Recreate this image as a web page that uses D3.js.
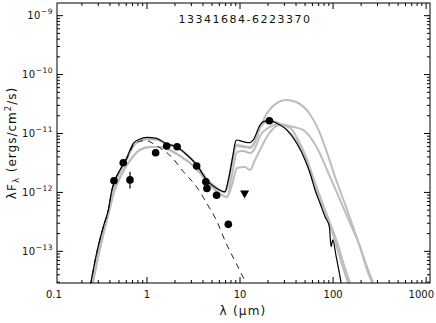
<!DOCTYPE html>
<html><head><meta charset="utf-8">
<script src="https://cdn.jsdelivr.net/npm/d3@7"></script>
<style>
body{margin:0;background:#fff}
svg{display:block}
text{font-family:"DejaVu Sans",sans-serif;fill:#111}
</style>
</head><body>
<svg id="chart" width="436" height="323"></svg>
<script>
// ---------------- data ----------------
const title = "13341684-6223370";
const xTickValues = [0.1, 1, 10, 100, 1000];
const xTickLabels = ["0.1", "1", "10", "100", "1000"];
const yTickValues = [1e-9, 1e-10, 1e-11, 1e-12, 1e-13];
const yTickExponents = ["\u22129", "\u221210", "\u221211", "\u221212", "\u221213"];

// photometry (microns, erg/cm2/s)
const obsLambda = [0.442, 0.556, 0.657, 1.24, 1.63, 2.11, 3.42, 4.29, 4.41, 5.60, 7.49, 20.7];
const obsFlux   = [1.58e-12, 3.19e-12, 1.63e-12, 4.72e-12, 6.14e-12, 5.97e-12, 2.81e-12, 1.52e-12, 1.17e-12, 8.93e-13, 2.87e-13, 1.65e-11];
const obsFluxLo = [1.40e-12, 2.85e-12, 1.17e-12, 4.20e-12, 5.50e-12, 5.35e-12, 2.50e-12, 1.36e-12, 1.05e-12, 7.95e-13, 2.56e-13, 1.47e-11];
const obsFluxHi = [1.78e-12, 3.58e-12, 2.24e-12, 5.30e-12, 6.85e-12, 6.66e-12, 3.15e-12, 1.70e-12, 1.31e-12, 1.00e-12, 3.22e-13, 1.85e-11];
const limitLambda = [11.2];
const limitFlux = [9.4e-13];

// best-fitting model (black)
const bestFit = [[0.245,2.5e-14],[0.288,9.35e-14],[0.339,2.59e-13],[0.384,5.0e-13],[0.42,1.1e-12],[0.453,1.62e-12],[0.513,2.4e-12],[0.605,3.84e-12],[0.713,6.82e-12],[0.841,8.07e-12],[0.993,8.61e-12],[1.27,8.28e-12],[1.63,6.64e-12],[2.09,5.97e-12],[2.56,4.61e-12],[3.42,2.92e-12],[4.39,1.62e-12],[5.62,1.17e-12],[6.9,1.03e-12],[7.48,1.62e-12],[8.47,4.61e-12],[8.84,6.82e-12],[9.22,7.76e-12],[10.8,7.26e-12],[12.8,6.98e-12],[13.9,7.76e-12],[16.4,1.39e-11],[17.8,1.59e-11],[20.7,1.65e-11],[24.8,1.49e-11],[31.8,1.15e-11],[40.7,6.82e-12],[50,3.55e-12],[56.6,2.11e-12],[64,1.1e-12],[72.4,6.53e-13],[82,3.87e-13],[91.2,2.62e-13],[95.1,1.2e-13],[99.3,1.56e-13],[108,8.1e-14],[117,4.23e-14],[127,2.0e-14]];

// stellar photosphere (dashed)
const photosphere = [[0.245,2.5e-14],[0.288,9.35e-14],[0.339,2.59e-13],[0.384,5.0e-13],[0.42,1.1e-12],[0.453,1.62e-12],[0.513,2.4e-12],[0.605,3.7e-12],[0.713,6.2e-12],[0.841,7.4e-12],[0.993,7.6e-12],[1.08,7.2e-12],[1.38,5.7e-12],[1.84,3.99e-12],[2.46,2.25e-12],[3.42,1.24e-12],[4.39,6.53e-13],[5.62,3.27e-13],[7.07,1.38e-13],[9.06,6.33e-14],[11.6,2.9e-14],[13.5,1.81e-14]];

// other good fits (grey): optical parts and infrared parts
const opticalUpper = [[0.25,2.5e-14],[0.295,9.0e-14],[0.345,2.5e-13],[0.39,5.0e-13],[0.425,1.05e-12],[0.46,1.55e-12],[0.52,2.3e-12],[0.61,3.7e-12],[0.72,6.3e-12],[0.85,7.6e-12],[1.0,8.1e-12],[1.27,7.9e-12],[1.63,6.6e-12],[2.09,5.9e-12],[2.56,4.7e-12],[3.42,3.0e-12],[4.39,1.7e-12],[5.62,1.2e-12],[6.9,1.0e-12]];
const opticalLower = [[0.262,2.9e-14],[0.305,9.35e-14],[0.353,2.49e-13],[0.4,5.43e-13],[0.442,1.02e-12],[0.488,1.5e-12],[0.566,2.4e-12],[0.69,3.84e-12],[0.841,5.25e-12],[1.08,5.9e-12],[1.38,5.9e-12],[1.77,5.25e-12],[2.26,4.15e-12],[2.9,3.16e-12],[3.72,2.13e-12],[4.76,1.34e-12],[6.09,9.4e-13],[7.25,8.36e-13]];
const infraredA = [[7.43,1.34e-12],[8.41,3.84e-12],[9.06,6.38e-12],[10.8,6.14e-12],[12.8,5.9e-12],[14.2,6.9e-12],[16.4,1.24e-11],[19,2.06e-11],[22.1,2.82e-11],[31.2,3.71e-11],[40,3.43e-11],[55.2,2.23e-11],[70.7,1.1e-11],[84.1,5.25e-12],[108,1.62e-12],[138,5.65e-13],[164,2.6e-13],[195,1.18e-13],[232,5.41e-14],[269,2.9e-14],[290,2.04e-14]];
const infraredB = [[7.43,1.45e-12],[8.41,4.15e-12],[9.06,6.14e-12],[10.8,5.9e-12],[12.8,5.68e-12],[14.2,6.64e-12],[16.4,1.24e-11],[19,1.57e-11],[22.1,1.63e-11],[26.9,1.45e-11],[34.5,1.02e-11],[44.2,5.9e-12],[55.2,2.59e-12],[65.6,1.1e-12],[78,5.43e-13],[92.9,2.79e-13],[108,1.28e-13],[125,5.85e-14],[145,2.9e-14],[156,2.04e-14]];
const infraredC = [[8.2,1.97e-12],[9.29,4.85e-12],[10.8,5.05e-12],[12.8,4.67e-12],[14.5,5.68e-12],[16.4,9.08e-12],[20,1.24e-11],[26.9,1.45e-11],[37.2,1.29e-11],[47.6,1.15e-11],[67.3,5.68e-12],[92.9,1.82e-12],[119,7.43e-13],[152,3.02e-13],[195,1.18e-13],[232,4.81e-14],[262,2.9e-14],[283,2.04e-14]];
const infraredD = [[8.2,1.34e-12],[9.29,2.59e-12],[11.3,2.7e-12],[12.8,2.4e-12],[14.5,3.55e-12],[16.4,5.25e-12],[20,9.44e-12],[26.9,1.39e-11],[34.5,1.24e-11],[42.1,7.76e-12],[51.3,3.99e-12],[62.5,1.62e-12],[76.2,6.87e-13],[92.9,3.02e-13],[113,1.28e-13],[131,5.85e-14],[152,2.9e-14],[164,2.04e-14]];

const greyFits = [
  opticalUpper.concat(infraredA),
  opticalUpper.concat(infraredB),
  opticalLower.concat(infraredC),
  opticalLower.concat(infraredD)
];

// ---------------- layout ----------------
const L = 57, R = 430, T = 3, B = 283;
const svg = d3.select("#chart");
const x = d3.scaleLog().domain([0.108, 1100]).range([L, R]);
const y = d3.scaleLog().domain([2.9e-14, 1.64e-9]).range([B, T]);

svg.append("clipPath").attr("id", "clip")
  .append("rect").attr("x", L).attr("y", T).attr("width", R - L).attr("height", B - T);

const plot = svg.append("g").attr("clip-path", "url(#clip)");
const line = d3.line().x(d => x(d[0])).y(d => y(d[1])).curve(d3.curveMonotoneX);

plot.selectAll("path.grey").data(greyFits).join("path")
  .attr("class", "grey").attr("d", line)
  .attr("fill", "none").attr("stroke", "#bdbdbd").attr("stroke-width", 2).attr("stroke-linejoin", "round");

plot.append("path").datum(photosphere).attr("d", line)
  .attr("fill", "none").attr("stroke", "#222").attr("stroke-width", 1).attr("stroke-dasharray", "6,5");

plot.append("path").datum(bestFit).attr("d", line)
  .attr("fill", "none").attr("stroke", "#000").attr("stroke-width", 1.2);

// error bars & points
const idx = d3.range(obsLambda.length);
plot.selectAll("line.err").data(idx).join("line")
  .attr("class", "err")
  .attr("x1", i => x(obsLambda[i])).attr("x2", i => x(obsLambda[i]))
  .attr("y1", i => y(obsFluxLo[i])).attr("y2", i => y(obsFluxHi[i]))
  .attr("stroke", "#000").attr("stroke-width", 1.2);
plot.selectAll("circle.pt").data(idx).join("circle")
  .attr("class", "pt")
  .attr("cx", i => x(obsLambda[i])).attr("cy", i => y(obsFlux[i])).attr("r", 3.8)
  .attr("fill", "#000");
plot.selectAll("path.lim").data(d3.range(limitLambda.length)).join("path")
  .attr("class", "lim")
  .attr("transform", i => `translate(${x(limitLambda[i])},${y(limitFlux[i])})`)
  .attr("d", "M-4.5,-3.5L4.5,-3.5L0,4.5Z").attr("fill", "#000");

// ---------------- axes ----------------
const ax = svg.append("g");
ax.append("rect").attr("x", L).attr("y", T).attr("width", R - L).attr("height", B - T)
  .attr("fill", "none").attr("stroke", "#000").attr("stroke-width", 1);

function logTicks(lo, hi) {
  const out = [];
  for (let e = Math.floor(Math.log10(lo)); e <= Math.ceil(Math.log10(hi)); e++) {
    for (let m = 1; m <= 9; m++) {
      const v = m * Math.pow(10, e);
      if (v >= lo && v <= hi) out.push({v, major: m === 1});
    }
  }
  return out;
}
const xt = logTicks(x.domain()[0], x.domain()[1]);
const yt = logTicks(y.domain()[0], y.domain()[1]);
const MAJ = 6, MIN = 3;
ax.selectAll("line.xb").data(xt).join("line")
  .attr("x1", d => x(d.v)).attr("x2", d => x(d.v))
  .attr("y1", B).attr("y2", d => B - (d.major ? MAJ : MIN)).attr("stroke", "#000");
ax.selectAll("line.xt").data(xt).join("line")
  .attr("x1", d => x(d.v)).attr("x2", d => x(d.v))
  .attr("y1", T).attr("y2", d => T + (d.major ? MAJ : MIN)).attr("stroke", "#000");
ax.selectAll("line.yl").data(yt).join("line")
  .attr("y1", d => y(d.v)).attr("y2", d => y(d.v))
  .attr("x1", L).attr("x2", d => L + (d.major ? MAJ : MIN)).attr("stroke", "#000");
ax.selectAll("line.yr").data(yt).join("line")
  .attr("y1", d => y(d.v)).attr("y2", d => y(d.v))
  .attr("x1", R).attr("x2", d => R - (d.major ? MAJ : MIN)).attr("stroke", "#000");

const last = xTickValues.length - 1;
ax.selectAll("text.xl").data(xTickValues).join("text")
  .attr("x", (d, i) => i === last ? 434 : x(d)).attr("y", 298)
  .attr("text-anchor", (d, i) => i === last ? "end" : "middle")
  .attr("font-size", 10).text((d, i) => xTickLabels[i]);

const yl = ax.selectAll("text.yl").data(yTickValues).join("text")
  .attr("x", 53).attr("y", d => y(d) + 3.5).attr("text-anchor", "end")
  .attr("font-size", 10).attr("letter-spacing", 0.5);
yl.append("tspan").text("10");
yl.append("tspan").attr("dy", -5).attr("font-size", 7.5).text((d, i) => yTickExponents[i]);

// title
svg.append("text").attr("x", 245).attr("y", 23).attr("text-anchor", "middle")
  .attr("font-size", 11).attr("letter-spacing", 1.5).text(title);

// x label
const xlab = svg.append("text").attr("x", 243).attr("y", 315).attr("text-anchor", "middle")
  .attr("font-size", 12).attr("letter-spacing", 1.2);
xlab.text("\u03bb (\u03bcm)");

// y label
const ylab = svg.append("text").attr("transform", "translate(16,143) rotate(-90)")
  .attr("text-anchor", "middle").attr("font-size", 12).attr("letter-spacing", 1);
ylab.append("tspan").text("\u03bbF");
ylab.append("tspan").attr("font-size", 8.5).attr("dy", 3).text("\u03bb");
ylab.append("tspan").attr("dy", -3).text(" (ergs/cm");
ylab.append("tspan").attr("font-size", 8.5).attr("dy", -5).text("2");
ylab.append("tspan").attr("dy", 5).text("/s)");
</script>
</body></html>
